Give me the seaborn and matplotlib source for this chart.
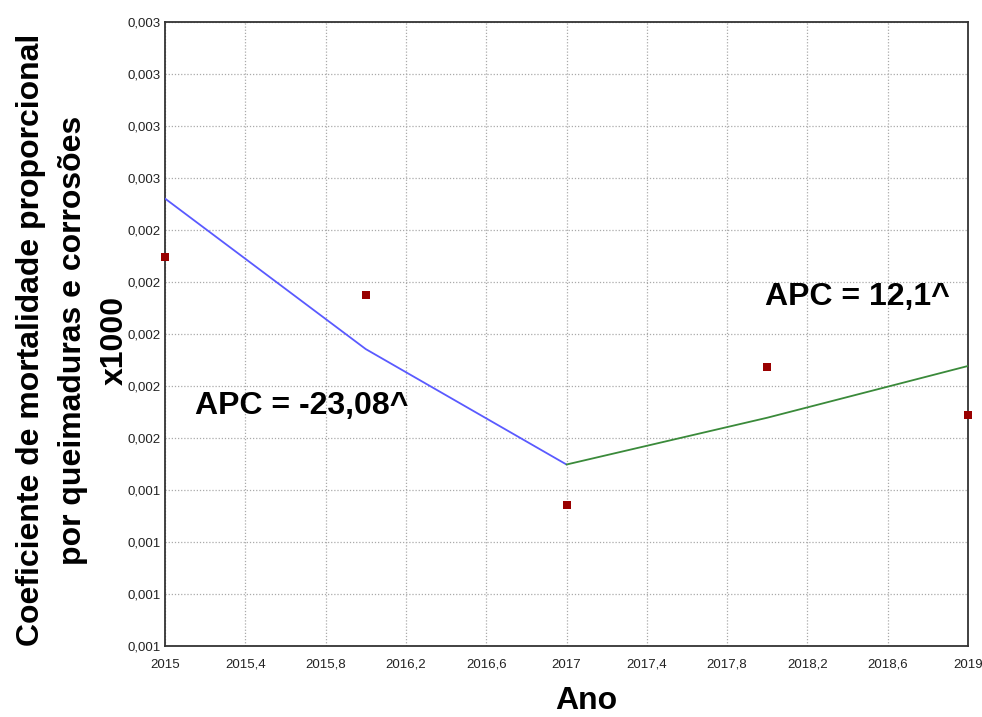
import matplotlib
matplotlib.use("Agg")
import matplotlib.pyplot as plt
import seaborn as sns
import pandas as pd
import numpy as np
from matplotlib.ticker import FuncFormatter, FixedLocator

# Data
years = [2015, 2016, 2017, 2018, 2019]
observed = [0.002295, 0.00215, 0.001344, 0.001873, 0.00169]
seg1_years = [2015, 2016, 2017]
seg1_fit = [0.002521, 0.001942, 0.001498]
seg2_years = [2017, 2018, 2019]
seg2_fit = [0.001498, 0.001678, 0.001877]
x_ticks = [2015, 2015.4, 2015.8, 2016.2, 2016.6, 2017, 2017.4, 2017.8, 2018.2, 2018.6, 2019]
y_ticks = [0.0008, 0.0010, 0.0012, 0.0014, 0.0016, 0.0018, 0.0020, 0.0022,
           0.0024, 0.0026, 0.0028, 0.0030, 0.0032]
apc1_text = "APC = -23,08^"
apc2_text = "APC = 12,1^"
ylabel = "Coeficiente de mortalidade proporcional\npor queimaduras e corrosões\nx1000"
xlabel = "Ano"

sns.set_style("white")
plt.rcParams['font.family'] = ['Liberation Sans', 'DejaVu Sans']

fig = plt.figure(figsize=(9.82, 7.17), dpi=100)
ax = fig.add_axes([165/982, 1-646/717, (968-165)/982, (646-22)/717])

df1 = pd.DataFrame({"x": seg1_years, "y": seg1_fit})
df2 = pd.DataFrame({"x": seg2_years, "y": seg2_fit})
dfo = pd.DataFrame({"x": years, "y": observed})

sns.lineplot(data=df1, x="x", y="y", ax=ax, color="#5a5aff", lw=1.3, zorder=3)
sns.lineplot(data=df2, x="x", y="y", ax=ax, color="#3a8a3a", lw=1.3, zorder=3)
sns.scatterplot(data=dfo, x="x", y="y", ax=ax, color="#990000", marker="s", s=30,
                edgecolor="#990000", linewidth=0, zorder=4, clip_on=False)

ax.set_xlim(2015, 2019)
ax.set_ylim(0.0008, 0.0032)
ax.xaxis.set_major_locator(FixedLocator(x_ticks))
ax.yaxis.set_major_locator(FixedLocator(y_ticks))

def xfmt(v, pos):
    s = f"{v:.1f}"
    if s.endswith(".0"):
        s = s[:-2]
    return s.replace(".", ",")

def yfmt(v, pos):
    return f"{v:.3f}".replace(".", ",")

ax.xaxis.set_major_formatter(FuncFormatter(xfmt))
ax.yaxis.set_major_formatter(FuncFormatter(yfmt))

narrow = ['Liberation Sans Narrow', 'Liberation Sans', 'DejaVu Sans']
for lab in ax.get_xticklabels() + ax.get_yticklabels():
    lab.set_family(narrow)
    lab.set_fontsize(9.5)
    lab.set_color("#222222")
ax.tick_params(axis='x', length=0, pad=9)
ax.tick_params(axis='y', length=0, pad=3)

ax.grid(True, linestyle=(0, (1, 1.5)), color="#aaaaaa", linewidth=0.9)
for side in ["left", "bottom", "top", "right"]:
    ax.spines[side].set_color("#333333")
    ax.spines[side].set_linewidth(1.3)

ax.set_xlabel("")
ax.set_ylabel("")

fig.text(73/982, 1-340/717, ylabel, rotation=90, ha="center", va="center",
         fontsize=23, fontweight="bold", linespacing=1.5, color="black")
fig.text(586/982, 1-716/717, xlabel, ha="center", va="bottom",
         fontsize=23, fontweight="bold", color="black")

ax.text(2015.15, 0.001722, apc1_text, ha="left", va="center",
        fontsize=23, fontweight="bold", color="black")
ax.text(2017.99, 0.002143, apc2_text, ha="left", va="center",
        fontsize=23, fontweight="bold", color="black")

fig.savefig("out.png", dpi=100)
